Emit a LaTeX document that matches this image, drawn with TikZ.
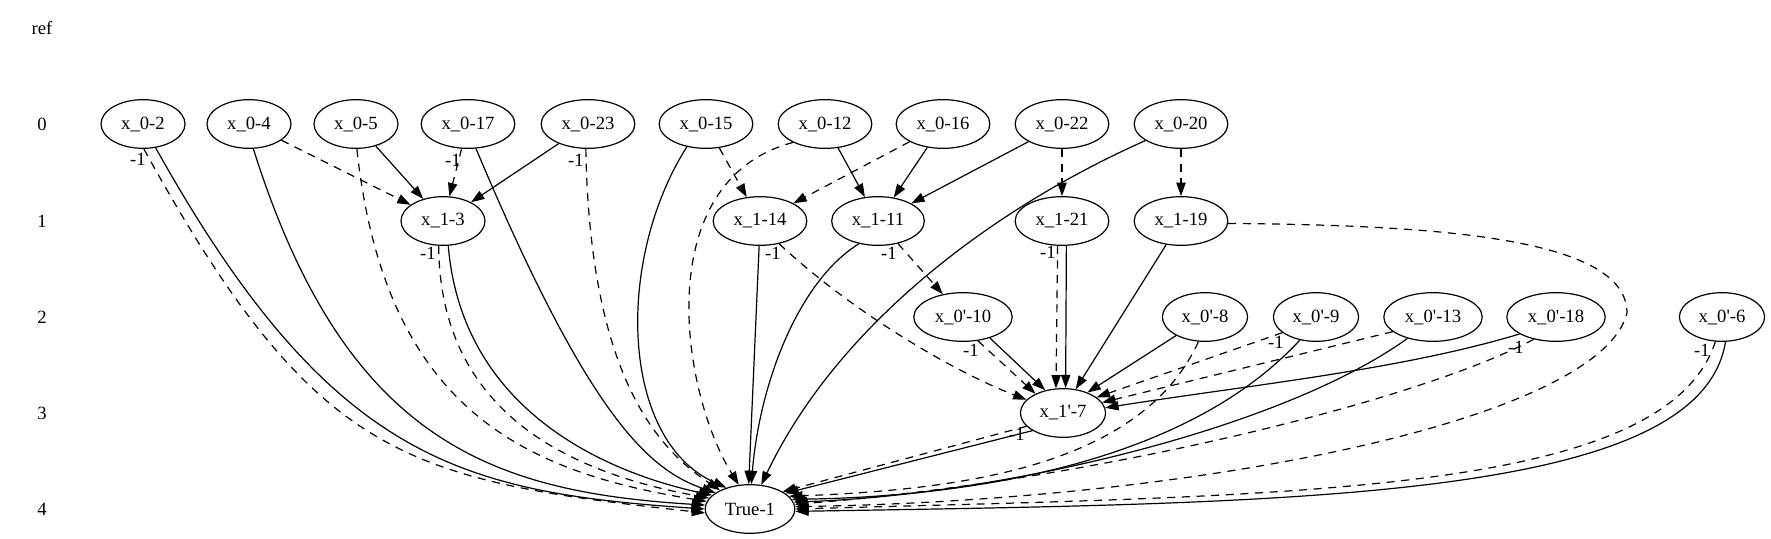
\documentclass[tikz,border=0pt]{standalone}
\usepackage{fontspec}
\setmainfont{Liberation Serif}
\usetikzlibrary{arrows.meta,shapes.geometric}

\tikzset{
  bdd/.style={draw,ellipse,line width=0.9pt,minimum width=63pt,minimum height=36.5pt,inner xsep=5pt,inner ysep=1pt},
  hi/.style={-{Triangle[length=10pt,width=7pt]},line width=0.9pt},
  lo/.style={hi,dash pattern=on 6pt off 5pt},
  neg/.style={inner sep=0pt},
  rank/.style={inner sep=0pt}
}

\begin{document}
\begin{tikzpicture}[x=0.75pt,y=-0.75pt,font=\fontsize{14}{17}\selectfont]
\useasboundingbox (0,0) rectangle (1771,539);

% rank column
\node[rank] (rref) at (42,28) {ref};
\node[rank] (r0) at (42,124) {0};
\node[rank] (r1) at (42,221) {1};
\node[rank] (r2) at (42,317) {2};
\node[rank] (r3) at (42,413) {3};
\node[rank] (r4) at (42,509) {4};

% level 0
\node[bdd] (a2) at (143,124) {x\_0-2};
\node[bdd] (a4) at (249,124) {x\_0-4};
\node[bdd] (a5) at (356,124) {x\_0-5};
\node[bdd] (a17) at (468,124) {x\_0-17};
\node[bdd] (a23) at (588,124) {x\_0-23};
\node[bdd] (a15) at (706,124) {x\_0-15};
\node[bdd] (a12) at (825,124) {x\_0-12};
\node[bdd] (a16) at (943,124) {x\_0-16};
\node[bdd] (a22) at (1062,124) {x\_0-22};
\node[bdd] (a20) at (1181,124) {x\_0-20};

% level 1
\node[bdd] (b3) at (443,221) {x\_1-3};
\node[bdd] (b14) at (760,221) {x\_1-14};
\node[bdd] (b11) at (878,221) {x\_1-11};
\node[bdd] (b21) at (1062,221) {x\_1-21};
\node[bdd] (b19) at (1181,221) {x\_1-19};

% level 2
\node[bdd] (c10) at (963,317) {x\_0\textquotesingle-10};
\node[bdd] (c8) at (1205,317) {x\_0\textquotesingle-8};
\node[bdd] (c9) at (1316,317) {x\_0\textquotesingle-9};
\node[bdd] (c13) at (1433,317) {x\_0\textquotesingle-13};
\node[bdd] (c18) at (1556,317) {x\_0\textquotesingle-18};
\node[bdd] (c6) at (1722,317) {x\_0\textquotesingle-6};

% level 3, 4
\node[bdd] (d7) at (1063,413) {x\_1\textquotesingle-7};
\node[bdd] (T) at (750,509) {True-1};

\coordinate (w19) at (1627,313);

% level 0 -> 1
\draw[lo] (a4) -- (b3);
\draw[hi] (a5) -- (b3);
\draw[lo] (a17) -- (b3);
\draw[hi] (a23) -- (b3);
\draw[lo] (a15) -- (b14);
\draw[lo] (a16) -- (b14);
\draw[hi] (a12) -- (b11);
\draw[hi] (a16) -- (b11);
\draw[hi] (a22) -- (b11);
\draw[lo] (a22) -- (b21);
\draw[lo] (a20) -- (b19);
\draw[lo] (b11) -- (c10);

% into x_1'-7
\draw[lo] (b14.-50) .. controls (850,310) and (950,370) .. (d7.160);
\draw[lo] (c10.-58) -- (d7.145);
\draw[hi] (c10.-38) -- (d7.128);
\draw[lo] (b21.-100) -- (d7.106);
\draw[hi] (b21.-80) -- (d7.84);
\draw[hi] (b19) -- (d7.62);
\draw[hi] (c8) -- (d7.40);
\draw[lo] (c9.205) -- (d7.25);
\draw[lo] (c13.200) -- (d7.15);
\draw[hi] (c18.205) .. controls (1400,370) and (1250,385) .. (d7.7);

% into True-1, left side
\draw[lo] (a2.-88) .. controls (315,460) and (404,480) .. (T.185);
\draw[hi] (a2.-62) .. controls (330,460) and (460,492) .. (T.180);
\draw[hi] (a4.-80) .. controls (345,440) and (490,492) .. (T.175);
\draw[lo] (a5.-88) .. controls (385,410) and (525,472) .. (T.170);
\draw[lo] (b3.-100) .. controls (440,410) and (565,472) .. (T.165);
\draw[hi] (b3.-78) .. controls (462,410) and (605,472) .. (T.160);
\draw[hi] (a17.-72) .. controls (590,420) and (650,470) .. (T.155);
\draw[lo] (a23.-95) .. controls (590,380) and (660,450) .. (T.148);
\draw[hi] (a15.-130) .. controls (615,260) and (620,440) .. (T.138);
\draw[lo] (a12.-150) .. controls (650,180) and (680,390) .. (T.115);
\draw[hi] (b14.-92) -- (T.93);
\draw[hi] (b11.-130) .. controls (800,280) and (760,380) .. (T.87);
\draw[hi] (a20.-155) .. controls (1000,205) and (840,320) .. (T.65);

% into True-1, right side
\draw[lo] (d7.200) -- (T.28);
\draw[hi] (d7.210) -- (T.24);
\draw[lo] (c8.-105) .. controls (1140,470) and (950,490) .. (T.18);
\draw[hi] (c9.-125) .. controls (1180,470) and (950,497) .. (T.13);
\draw[hi] (c13.-140) .. controls (1280,430) and (1000,495) .. (T.9);
\draw[lo] (c18.-135) .. controls (1420,400) and (1100,480) .. (T.6);
\draw[lo] (b19.-3) .. controls (1450,225) and (1627,240) .. (w19)
  .. controls (1600,420) and (1200,500) .. (T.3);
\draw[lo] (c6.-105) .. controls (1665,495) and (1300,495) .. (T.0);
\draw[hi] (c6.-82) .. controls (1700,500) and (1300,503) .. (T.-3);

% complement marks
\node[neg] (l2) at (138,159) {-1};
\node[neg] (l17) at (453,160) {-1};
\node[neg] (l23) at (576,160) {-1};
\node[neg] (l3) at (428,253) {-1};
\node[neg] (l14) at (773,253) {-1};
\node[neg] (l11) at (889,253) {-1};
\node[neg] (l21) at (1048,252) {-1};
\node[neg] (l10) at (971,350) {-1};
\node[neg] (l9) at (1276,342) {-1};
\node[neg] (l18) at (1516,347) {-1};
\node[neg] (l6) at (1702,350) {-1};
\node[neg] (l7) at (1017,434) {-1};
\end{tikzpicture}
\end{document}
